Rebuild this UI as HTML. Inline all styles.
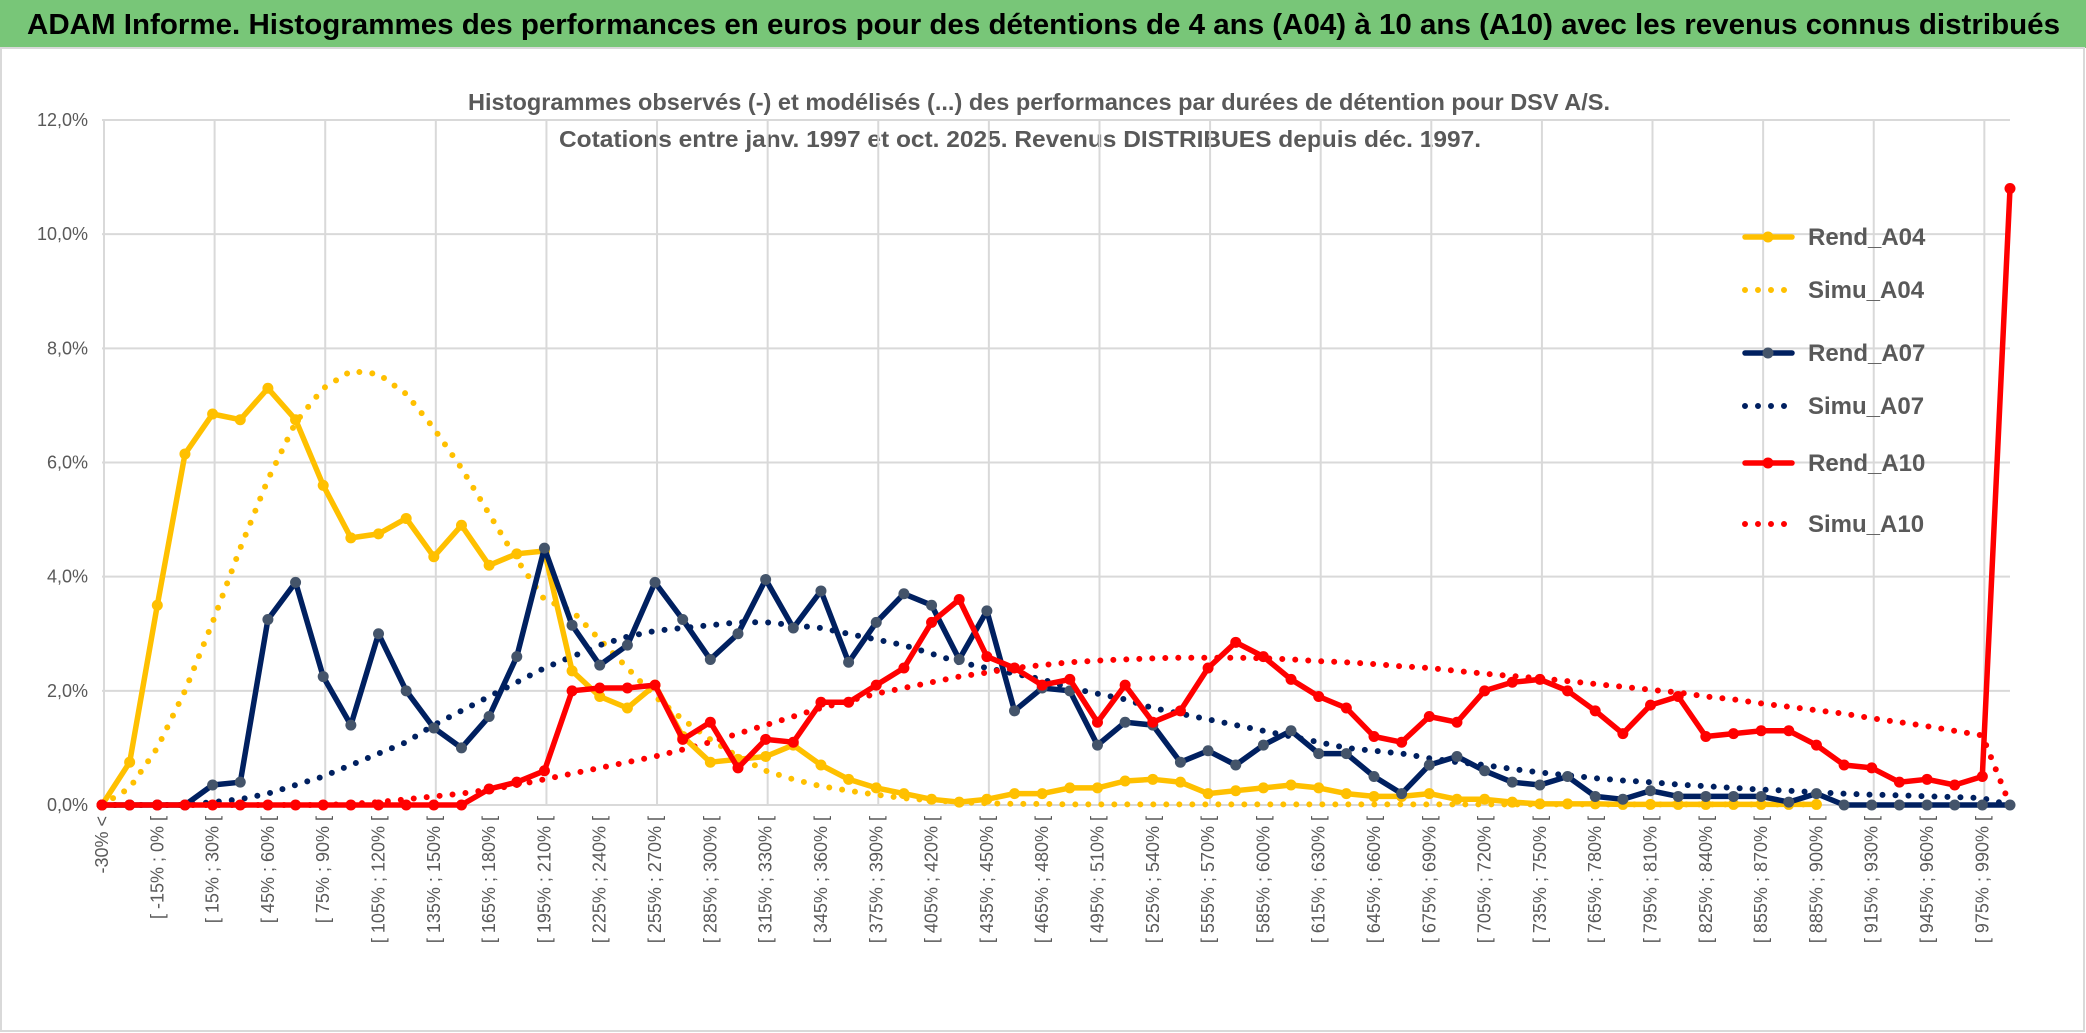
<!DOCTYPE html>
<html><head><meta charset="utf-8"><style>
html,body{margin:0;padding:0;background:#fff;}
#wrap{position:relative;width:2086px;height:1033px;overflow:hidden;font-family:"Liberation Sans",sans-serif;}
#titlebar{position:absolute;left:0;top:0;width:2086px;height:48px;background:#78c678;}
svg{position:absolute;left:0;top:0;}
</style></head><body>
<div id="wrap">
<div id="titlebar"></div>
<svg id="chart" width="2086" height="1033">
<text x="27" y="34" font-size="29" font-weight="bold" fill="#000" textLength="2033" lengthAdjust="spacingAndGlyphs">ADAM Informe. Histogrammes des performances en euros pour des détentions de 4 ans (A04) à 10 ans (A10) avec les revenus connus distribués</text>
</svg>
</div>
<script>
const rendA04=[0,0.75,3.5,6.15,6.85,6.75,7.3,6.75,5.6,4.68,4.75,5.02,4.35,4.9,4.2,4.4,4.45,2.35,1.9,1.7,2.1,1.2,0.75,0.8,0.85,1.05,0.7,0.45,0.3,0.2,0.1,0.05,0.1,0.2,0.2,0.3,0.3,0.42,0.45,0.4,0.2,0.25,0.3,0.35,0.3,0.2,0.15,0.15,0.2,0.1,0.1,0.05,0.02,0.02,0.02,0.01,0.01,0.01,0.01,0.01,0.01,0.01,0.01,null,null,null,null,null,null,null];
const simuA04=[0,0.3,1.0,2.0,3.2,4.5,5.7,6.7,7.3,7.6,7.55,7.2,6.6,5.9,5.1,4.3,3.6,3.4,2.9,2.4,1.9,1.5,1.15,0.85,0.6,0.45,0.33,0.25,0.18,0.12,0.08,0.05,0.03,0.02,0.02,0.01,0.01,0.01,0.01,0.01,0.01,0.01,0.01,0.01,0.01,0.01,0.01,0.01,0.01,0.01,0.01,0.01,0.01,0.01,0.01,0.01,0.01,0.01,0.01,0.01,0.01,0.01,0.01,null,null,null,null,null,null,null];
const rendA07=[0,0,0,0,0.35,0.4,3.25,3.9,2.25,1.4,3.0,2.0,1.35,1.0,1.55,2.6,4.5,3.15,2.45,2.8,3.9,3.25,2.55,3.0,3.95,3.1,3.75,2.5,3.2,3.7,3.5,2.55,3.4,1.65,2.05,2.0,1.05,1.45,1.4,0.75,0.95,0.7,1.05,1.3,0.9,0.9,0.5,0.2,0.7,0.85,0.6,0.4,0.35,0.5,0.15,0.1,0.25,0.15,0.15,0.15,0.15,0.05,0.2,0,0,0,0,0,0,0];
const simuA07=[0,0,0,0,0.05,0.1,0.2,0.35,0.5,0.7,0.9,1.1,1.4,1.65,1.9,2.15,2.4,2.6,2.8,2.95,3.05,3.1,3.15,3.2,3.2,3.15,3.1,3.0,2.9,2.8,2.65,2.5,2.4,2.3,2.2,2.05,1.95,1.85,1.7,1.6,1.5,1.4,1.3,1.2,1.1,1.0,0.95,0.9,0.82,0.75,0.7,0.63,0.57,0.52,0.47,0.43,0.4,0.36,0.33,0.3,0.27,0.25,0.22,0.2,0.18,0.17,0.15,0.14,0.12,0];
const rendA10=[0,0,0,0,0,0,0,0,0,0,0,0,0,0,0.28,0.4,0.6,2.0,2.05,2.05,2.1,1.15,1.45,0.65,1.15,1.1,1.8,1.8,2.1,2.4,3.2,3.6,2.6,2.4,2.1,2.2,1.45,2.1,1.45,1.65,2.4,2.85,2.6,2.2,1.9,1.7,1.2,1.1,1.55,1.45,2.0,2.15,2.2,2.0,1.65,1.25,1.75,1.9,1.2,1.25,1.3,1.3,1.05,0.7,0.65,0.4,0.45,0.35,0.5,10.8];
const simuA10=[0,0,0,0,0,0,0,0,0,0.02,0.05,0.1,0.15,0.2,0.27,0.35,0.45,0.55,0.65,0.75,0.85,0.97,1.1,1.25,1.4,1.55,1.7,1.82,1.95,2.05,2.15,2.25,2.32,2.4,2.45,2.5,2.53,2.55,2.57,2.58,2.58,2.58,2.57,2.55,2.52,2.5,2.47,2.43,2.4,2.35,2.3,2.26,2.22,2.17,2.12,2.07,2.02,1.97,1.9,1.85,1.78,1.72,1.66,1.6,1.52,1.45,1.38,1.3,1.22,0];
const yTicks=[0,2,4,6,8,10,12];
const categories=[];
categories.push('-30% <');
for(let k=1;k<69;k++){const lo=-30+15*(k-1);categories.push('[ '+lo+'% ; '+(lo+15)+'% [');}
categories.push('990% <');

const NS='http://www.w3.org/2000/svg';
const svg=document.getElementById('chart');
const X0=102,X1=2010,Y0=805,Y12=120;
const xs=i=>X0+(X1-X0)*i/(categories.length-1);
const ys=v=>Y0-(Y0-Y12)*v/12;
function mk(tag,attrs,parent){const e=document.createElementNS(NS,tag);for(const k in attrs)e.setAttribute(k,attrs[k]);(parent||svg).appendChild(e);return e;}

const fr=mk('rect',{x:1,y:48,width:2083,height:983,fill:'none',stroke:'#d9d9d9','stroke-width':2});



const st1=mk('text',{x:468,y:110,'font-size':23,'font-weight':'bold',fill:'#595959',textLength:1142,lengthAdjust:'spacingAndGlyphs'});
st1.textContent='Histogrammes observés (-) et modélisés (...) des performances par durées de détention pour DSV A/S.';


const st2=mk('text',{x:559,y:147,'font-size':23,'font-weight':'bold',fill:'#595959',textLength:922,lengthAdjust:'spacingAndGlyphs'});
st2.textContent='Cotations entre janv. 1997 et oct. 2025. Revenus DISTRIBUES depuis déc. 1997.';



const grid=mk('g',{});


yTicks.forEach(t=>{
  const l=mk('line',{x1:X0,x2:X1,y1:ys(t),y2:ys(t),stroke:'#d9d9d9','stroke-width':2},grid);
  
  
  const tx=mk('text',{x:88,y:ys(t)+6,'text-anchor':'end','font-size':18,fill:'#595959'});
  tx.textContent=t.toFixed(1).replace('.',',')+'%';
  
  
});
for(let i=0;i<categories.length;i+=4){
  const l=mk('line',{x1:xs(i)+2,x2:xs(i)+2,y1:Y12,y2:Y0,stroke:'#d9d9d9','stroke-width':2},grid);
  
  
}
categories.forEach((c,i)=>{
  if(i%2) return;
  const x=xs(i)+6,y=816;
  const tx=mk('text',{x:x,y:y,'text-anchor':'end','font-size':18,fill:'#595959',transform:'rotate(-90 '+x+' '+y+')'});
  tx.textContent=c;
  
  
});

const series=[
 {name:'Rend_A04',data:rendA04,color:'#ffc000',dot:false,mark:'#ffc000'},
 {name:'Simu_A04',data:simuA04,color:'#ffc000',dot:true},
 {name:'Rend_A07',data:rendA07,color:'#002060',dot:false,mark:'#44546a'},
 {name:'Simu_A07',data:simuA07,color:'#002060',dot:true},
 {name:'Rend_A10',data:rendA10,color:'#ff0000',dot:false,mark:'#ff0000'},
 {name:'Simu_A10',data:simuA10,color:'#ff0000',dot:true}
];
const drawOrder=[1,3,5,0,2,4];
drawOrder.forEach(si=>{
  const s=series[si];
  const g=mk('g',{});
  
  
  let d='';let pen=false;
  s.data.forEach((v,i)=>{if(v===null){pen=false;return;}d+=(pen?'L':'M')+xs(i).toFixed(1)+' '+ys(v).toFixed(1)+' ';pen=true;});
  const p=mk('path',{d:d,fill:'none',stroke:s.color,'stroke-width':s.dot?6:5.5,'stroke-linecap':'round','stroke-linejoin':'round'},g);
  if(s.dot){p.setAttribute('stroke-dasharray','0 13');}
  
  
  if(!s.dot){
    s.data.forEach((v,i)=>{
      if(v===null) return;
      const c=mk('circle',{cx:xs(i),cy:ys(v),r:5.5,fill:s.mark},g);
      
      
    });
  }
});

const lg=mk('g',{});


const legY=[237,290,353,406,463,524];
series.forEach((s,k)=>{
  const y=legY[k];
  const e=mk('g',{},lg);
  
  
  const l=mk('line',{x1:1745,x2:1792,y1:y,y2:y,stroke:s.color,'stroke-width':s.dot?6:5.5,'stroke-linecap':'round'},e);
  if(s.dot) l.setAttribute('stroke-dasharray','0 13');
  if(!s.dot) mk('circle',{cx:1768,cy:y,r:5.5,fill:s.mark},e);
  const t=mk('text',{x:1808,y:y+8,'font-size':24,'font-weight':'bold',fill:'#595959'},e);
  t.textContent=s.name;
});
</script>
</body></html>
